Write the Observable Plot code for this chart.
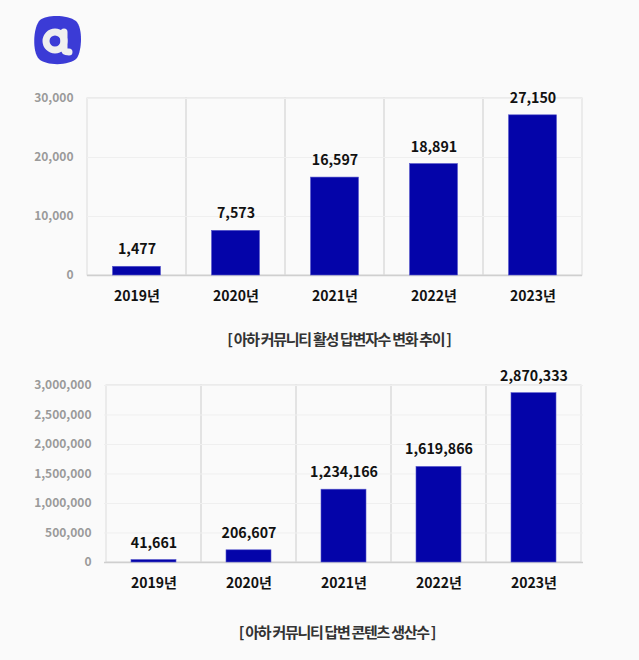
<!DOCTYPE html>
<html>
<head>
<meta charset="utf-8">
<script src="https://cdn.jsdelivr.net/npm/d3@7"></script>
<script src="https://cdn.jsdelivr.net/npm/@observablehq/plot@0.6"></script>
<style>
  html, body { margin: 0; padding: 0; background: #fafafa; }
  body { width: 639px; height: 660px; position: relative; overflow: hidden;
         font-family: "Noto Sans CJK KR", "Noto Sans", sans-serif; }
  .chart { position: absolute; left: 0; }
  .caption { position: absolute; width: 400px; text-align: center; font-size: 15px;
             font-weight: 700; color: #333; letter-spacing: -1.3px; line-height: 20px; }
  #logo { position: absolute; left: 30px; top: 12px; }
</style>
</head>
<body>
<svg id="logo" width="54" height="56" viewBox="0 0 54 56">
  <path d="M10 8 C18 2 38 3 46 9 C53 16 52 38 47 46 C40 54 16 54 9 47 C2 40 3 15 10 8 Z" fill="#3b3bd6"/>
  <circle cx="25" cy="29" r="9" fill="none" stroke="#efefef" stroke-width="7"/>
  <path d="M34 20 L34 36 Q34 40 39 40" fill="none" stroke="#efefef" stroke-width="7" stroke-linecap="round"/>
</svg>
<div id="chart1" class="chart" style="top:80px"></div>
<div id="cap1" class="caption" style="left:139px; top:329px"></div>
<div id="chart2" class="chart" style="top:365px"></div>
<div id="cap2" class="caption" style="left:137px; top:622px"></div>
<script>
const years = ["2019년", "2020년", "2021년", "2022년", "2023년"];
const responders = [1477, 7573, 16597, 18891, 27150];
const contents = [41661, 206607, 1234166, 1619866, 2870333];
const ticks1 = [0, 10000, 20000, 30000];
const ticks2 = [0, 500000, 1000000, 1500000, 2000000, 2500000, 3000000];
const caption1 = "[ 아하 커뮤니티 활성 답변자수 변화 추이 ]";
const caption2 = "[ 아하 커뮤니티 답변 콘텐츠 생산수 ]";

const FONT = "'Noto Sans CJK KR', 'Noto Sans', sans-serif";
const fmt = d3.format(",");

function makeChart(values, ticks, o) {
  const data = years.map((year, i) => ({year, value: values[i]}));
  const top = ticks[ticks.length - 1];
  return Plot.plot({
    width: 639,
    height: o.height,
    marginLeft: o.marginLeft,
    marginRight: o.marginRight,
    marginTop: o.marginTop,
    marginBottom: o.marginBottom,
    style: {background: "transparent", fontFamily: FONT, overflow: "visible"},
    x: {domain: years, padding: 0, label: null},
    y: {domain: [0, top], label: null},
    marks: [
      Plot.barY(years, {x: d => d, y1: 0, y2: top, fill: "none", stroke: "#dcdcdc", strokeWidth: 1}),
      Plot.ruleY(ticks.filter(t => t > 0), {stroke: "#efefef", strokeWidth: 1}),
      Plot.ruleY([0], {stroke: "#cfcfcf", strokeWidth: 1.5}),
      Plot.barY(data, {x: "year", y: "value", fill: "#0404a9", stroke: "#5858cc", strokeWidth: 0.6,
                       insetLeft: o.inset, insetRight: o.inset}),
      Plot.text(data, {x: "year", y: "value", text: d => fmt(d.value), dy: -17,
                       fontSize: 14.2, fontWeight: 700, fill: "#111", fontFamily: FONT, letterSpacing: 0.2}),
      Plot.axisY({ticks, tickFormat: fmt, tickSize: 0, tickPadding: o.tickPad, fontSize: 12,
                  fontWeight: 600, fill: "#9a9a9a", label: null}),
      Plot.axisX({tickSize: 0, tickPadding: 16, fontSize: 14, fontWeight: 700, fill: "#111", label: null})
    ]
  });
}

document.getElementById("chart1").append(
  makeChart(responders, ticks1, {height: 240, marginLeft: 87, marginRight: 57, marginTop: 18, marginBottom: 45, inset: 25.5, tickPad: 14})
);
document.getElementById("chart2").append(
  makeChart(contents, ticks2, {height: 242, marginLeft: 104, marginRight: 56, marginTop: 20, marginBottom: 45, inset: 25, tickPad: 13})
);
document.getElementById("cap1").textContent = caption1;
document.getElementById("cap2").textContent = caption2;
</script>
</body>
</html>
